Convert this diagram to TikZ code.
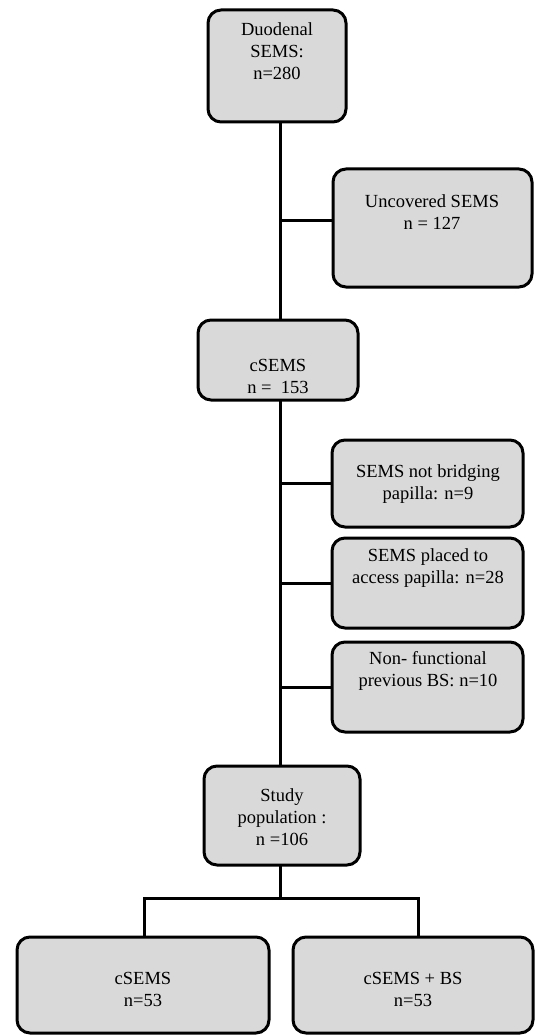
\documentclass[tikz,border=0pt]{standalone}
\usepackage{fontspec}
\setmainfont{Liberation Serif}
\begin{document}
\begin{tikzpicture}[x=1pt,y=-1pt,
  boxst/.style={draw=black,line width=3pt,fill=boxgray,rounded corners=13pt,inner sep=0pt,outer sep=0pt},
  txt/.style={align=center,font=\fontsize{18.5}{22}\selectfont,inner sep=0pt},
  link/.style={draw=black,line width=3pt}]
\definecolor{boxgray}{HTML}{D9D9D9}
\useasboundingbox (0,0) rectangle (535,1035);
\fill[white] (0,0) rectangle (535,1035);
% boxes (centre, width, height)
\node[boxst,minimum width=138pt,minimum height=112pt] (A) at (277,66) {};
\node[boxst,minimum width=199pt,minimum height=118pt] (B) at (432.5,228) {};
\node[boxst,minimum width=160pt,minimum height=80pt] (C) at (278,360) {};
\node[boxst,minimum width=191pt,minimum height=87pt] (D) at (427.5,483.5) {};
\node[boxst,minimum width=191pt,minimum height=90pt] (E) at (427.5,583) {};
\node[boxst,minimum width=191pt,minimum height=90pt] (F) at (427.5,687) {};
\node[boxst,minimum width=156pt,minimum height=99pt] (G) at (282,815.5) {};
\node[boxst,minimum width=252pt,minimum height=96pt] (H) at (143,985) {};
\node[boxst,minimum width=240pt,minimum height=96pt] (I) at (413,985) {};
% trunk and split points
\coordinate (trunk) at (280,0);
\coordinate (split) at (280,898);
\coordinate (Hin) at (144,0);
\coordinate (Iin) at (418,0);
% texts
\node[txt] (tA) at (277,51) {Duodenal\\SEMS:\\n=280};
\node[txt] (tB) at (432,212) {Uncovered SEMS\\n = 127};
\node[txt] (tC) at (278,376) {cSEMS\\n =\ \ 153};
\node[txt] (tD) at (428,484) {SEMS not bridging\\papilla: n=9};
\node[txt] (tE) at (428,568) {SEMS placed to\\access papilla: n=28};
\node[txt] (tF) at (428,671) {Non- functional\\previous BS: n=10};
\node[txt] (tG) at (282,817) {Study\\population :\\n =106};
\node[txt] (tH) at (143,989) {cSEMS\\n=53};
\node[txt] (tI) at (413,989) {cSEMS + BS\\n=53};
% connectors
\draw[link] (A.south -| trunk) -- (C.north -| trunk);
\draw[link] ([yshift=8pt]B.west) -- ([yshift=8pt]B.west -| trunk);
\draw[link] (C.south -| trunk) -- (G.north -| trunk);
\draw[link] (D.west) -- (D.west -| trunk);
\draw[link] (E.west) -- (E.west -| trunk);
\draw[link] (F.west) -- (F.west -| trunk);
\draw[link] (G.south -| trunk) -- (split);
\draw[link] (H.north -| Hin) |- (split) -| (I.north -| Iin);
\end{tikzpicture}
\end{document}
